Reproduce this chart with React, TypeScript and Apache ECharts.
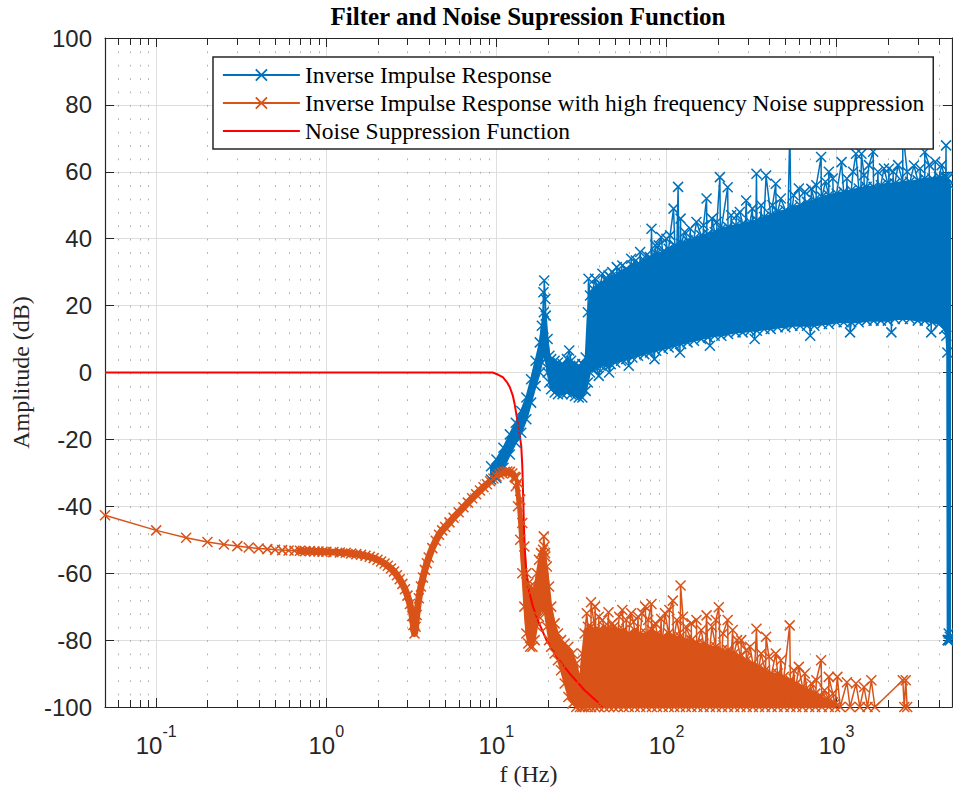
import { useEffect, useRef } from "react";
import * as echarts from "echarts";

// ---------- axis ----------
const X_MIN = 0.05;
const X_MAX = 4770;
const Y_MIN = -100;
const Y_MAX = 100;
const Y_STEP = 20;
const minorMultipliers = [2, 3, 4, 5, 6, 7, 8, 9];
const minorDecades = [-2, -1, 0, 1, 2, 3];

// ---------- series names ----------
const NAME_BLUE = "Inverse Impulse Response";
const NAME_ORANGE = "Inverse Impulse Response with high frequency Noise suppression";
const NAME_RED = "Noise Suppression Function";

// ---------- orange: low-frequency trace ----------
const orangeTraceF = [
  0.05, 0.1, 0.15, 0.2, 0.25, 0.3, 0.35, 0.4, 0.45, 0.5, 0.55, 0.6, 0.65, 0.7, 0.75, 0.8, 0.85, 0.9, 0.95, 1.0,
  1.1, 1.2, 1.3, 1.4, 1.5, 1.6, 1.7, 1.8, 1.9, 2.0, 2.1, 2.2, 2.3, 2.4, 2.5, 2.6, 2.7, 2.8, 2.9, 3.0,
  3.1, 3.2, 3.25, 3.3, 3.35, 3.4, 3.5, 3.6, 3.7, 3.8, 3.9, 4.0, 4.2, 4.4, 4.6, 4.8, 5.0, 5.3, 5.6, 6.0,
  6.4, 6.8, 7.2, 7.6, 8.0, 8.4, 8.8, 9.2, 9.6, 10.0, 10.4, 10.8, 11.2, 11.6, 12.0, 12.4, 12.8,
];
const orangeTraceV = [
  -42.7, -47.2, -49.4, -50.7, -51.4, -51.9, -52.3, -52.6, -52.8, -53.0, -53.1, -53.2, -53.3, -53.3, -53.4, -53.4, -53.5, -53.5, -53.6, -53.6,
  -53.7, -53.8, -53.9, -54.1, -54.3, -54.5, -54.8, -55.1, -55.5, -56.0, -56.5, -57.1, -57.8, -58.6, -59.5, -60.6, -61.8, -63.2, -64.8, -66.7,
  -69.2, -72.8, -75.5, -78.0, -76.0, -72.5, -67.5, -64.0, -61.3, -59.0, -57.0, -55.3, -52.5, -50.3, -48.5, -47.2, -46.2, -44.8, -43.4, -41.8,
  -40.3, -38.9, -37.6, -36.4, -35.3, -34.3, -33.4, -32.5, -31.7, -31.0, -30.4, -30.0, -29.7, -29.6, -29.7, -30.2, -31.2,
];
// frequency above which the trace points merge into a solid band
const ORANGE_DENSE_FROM = 0.7;

// ---------- orange: noisy band (upper / lower edge) ----------
const orangeBandF = [
  13.0, 13.4, 13.8, 14.2, 14.6, 15.0, 15.4, 15.8, 16.3, 16.8, 17.3, 17.8, 18.3, 18.8, 19.3, 19.8, 20.4, 21, 22, 23,
  24, 25.2, 26.5, 28, 29.5, 31, 32, 33, 34.5, 36, 38, 40, 43, 46, 49, 52, 56, 60, 65, 70,
  76, 82, 88, 95, 103, 111, 120, 130, 140, 152, 165, 180, 195, 212, 230, 250, 272, 296, 322, 350,
  380, 415, 450, 490, 535, 580, 630, 690, 750, 820, 900, 980,
];
const orangeBandHi = [
  -31.5, -33, -38, -45, -52, -60, -63, -64, -65, -64, -60, -56, -54, -53, -54, -58, -64, -70, -75, -78,
  -80, -81, -82, -84, -87, -92, -84, -78, -76, -76, -77, -77, -76, -77, -76, -77, -77, -78, -77, -78,
  -78, -77, -78, -79, -78, -79, -79, -80, -80, -81, -81, -82, -82, -83, -83, -84, -85, -86, -87, -88,
  -89, -90, -90, -91, -92, -93, -94, -95, -96, -97, -98, -99,
];
const orangeBandLo = [
  -34, -40, -50, -60, -70, -78, -81, -82, -82, -80, -76, -73, -71, -71, -72, -76, -80, -82, -84, -86,
  -89, -93, -97, -99, -100, -100, -100, -100, -100, -100, -100, -100, -100, -100, -100, -100, -100, -100, -100, -100,
  -100, -100, -100, -100, -100, -100, -100, -100, -100, -100, -100, -100, -100, -100, -100, -100, -100, -100, -100, -100,
  -100, -100, -100, -100, -100, -100, -100, -100, -100, -100, -100, -100,
];
// ---------- orange: peaks above the band ----------
const orangeSpikeF = [
  19.0, 19.2, 19.4, 34, 36, 38, 40, 42, 45.6, 48, 52.7, 55, 58, 62, 64, 68, 72, 75, 78, 81.6,
  86, 93, 98, 104, 109, 115, 121, 125, 130, 140, 150, 160, 172, 185, 195, 203, 215, 229, 245, 260,
  275, 294, 310, 338, 360, 385, 400, 439, 470, 530, 560, 600, 650, 711, 760, 811, 850, 900, 950,
];
const orangeSpikeV = [
  -49, -52, -55, -72, -68.7, -70, -73, -74, -71.7, -75, -73, -71, -74, -72, -74.6, -73, -72, -70, -74, -69.2,
  -75, -73.7, -72, -71, -68.2, -74, -63.7, -73, -76, -75, -74, -77, -72.6, -76, -74, -70.2, -78, -74, -77, -80,
  -80, -83, -82, -76.6, -84, -79, -85, -84, -86, -75.6, -89, -88, -90, -93, -92, -86, -95, -91, -96,
];
// ---------- orange: sparse tail ----------
const orangeTailF = [1010, 1050, 1150, 1200, 1300, 1370, 1450, 1520, 1600, 1680, 2450, 2500, 2550, 2600];
const orangeTailV = [-91, -100, -92.6, -100, -93, -100, -94, -100, -92, -100, -92, -100, -92, -100];

// ---------- blue: band (upper / lower edge) ----------
const blueBandF = [
  9.3, 10, 11, 12, 13, 14, 15, 16, 17, 18, 18.5, 19, 19.5, 20, 20.5, 21, 22, 23, 24.5, 26,
  27.5, 29, 30.5, 32, 33.5, 34.5, 35.5, 37, 39, 41, 44, 47, 50, 54, 58, 63, 68, 74, 80, 87,
  95, 103, 112, 122, 133, 145, 160, 175, 192, 210, 230, 255, 280, 310, 340, 375, 410, 450, 500, 550,
  610, 670, 740, 820, 900, 1000, 1100, 1220, 1350, 1500, 1650, 1820, 2000, 2200, 2450, 2700, 3000, 3300, 3650, 4000,
  4300, 4420, 4480, 4500, 4640,
];
const blueBandHi = [
  -28, -26, -22.5, -18.5, -15, -11.5, -7.5, -2, 3.5, 9, 14, 18, 17, 10, 5, 4, 3.5, 3, 2.5, 4,
  3.5, 2.5, 2, 2.5, 4.5, 18, 23, 25, 26, 26.5, 27.5, 28.5, 29, 30, 31, 32, 32.5, 33.5, 34.5, 35.5,
  36, 37, 38, 38.5, 39.5, 40, 41, 41.5, 42, 43, 43.5, 44, 44.5, 45, 45.5, 46.5, 47, 48, 48.5, 49.5,
  50, 51, 51.5, 52.5, 53, 53.5, 54, 54.5, 55, 55.5, 55.5, 56, 56.5, 56.5, 57, 57, 57.5, 58, 58, 58.5,
  58.5, 58.5, 58, 58, 56,
];
const blueBandLo = [
  -32, -31.5, -28.5, -24.5, -21, -18, -14, -9, -4, 0, 3, 6, 4, 0, -3, -5, -6, -6.5, -6.5, -6,
  -6.5, -7, -7.5, -7.5, -5.5, -3, 0, 1, 1.5, 2, 2, 2.5, 3, 3.5, 4, 4.5, 5, 5.5, 6, 6.5,
  7, 7.5, 8, 8.5, 9, 9.5, 10, 10.5, 11, 11, 11.5, 12, 12, 12.5, 12.5, 13, 13, 13.5, 13.5, 14,
  14, 14, 14, 14.5, 14.5, 15, 15, 15, 15, 15.5, 15.5, 15.5, 15.5, 16, 16, 16, 15.5, 15.5, 15, 14.5,
  13, 11, 6, -80, -80,
];
// ---------- blue: peaks above the band ----------
const blueSpikeF = [
  18.9, 19.1, 19.4, 26.8, 34.8, 38, 42, 45.6, 48, 51, 55, 58.5, 62, 66, 70, 76, 81.6, 86, 90, 93,
  100, 105, 110, 117, 121, 128, 138, 150, 165, 172, 185, 198, 206, 229, 240, 260, 270, 294, 320, 338,
  360, 385, 420, 439, 470, 531, 560, 600, 650, 711, 760, 811, 860, 900, 950, 1070, 1150, 1250, 1300, 1400,
  1450, 1550, 1640, 1750, 1900, 2030, 2150, 2300, 2450, 2600, 2850, 3100, 3300, 3500, 3800, 4150, 4400,
];
const blueSpikeV = [
  24, 27.5, 22, 6.6, 28, 28, 29.5, 29, 30, 31.5, 32, 30.5, 34, 33.5, 36, 35, 43, 38, 38, 40.5,
  40, 41, 49, 55.5, 46, 42, 43, 45, 44, 52, 46, 45, 58.4, 55.4, 47, 47, 48, 51.4, 49, 59.4,
  50, 58.9, 50, 56.4, 52, 72, 53, 55, 54, 54.9, 56, 64.4, 57, 60, 58, 62.9, 58, 60, 65.4, 65.4,
  59, 62, 66, 60, 61, 60.9, 60, 62, 72, 60, 61.9, 61, 65.9, 62, 63, 62, 67.9,
];
// ---------- blue: dips below the band ----------
const blueDipF = [40, 46, 60, 85, 120, 180, 330, 700, 1200, 2100, 3600];
const blueDipV = [-1, 0, 2, 4, 6, 8, 10, 11, 12, 12, 12];
// ---------- blue: final roll-off (markers along the drop) ----------
const blueEndF = [4520, 4560, 4600, 4630];
const blueEndV = [-80, -78, -80, -79];

// ---------- red: noise suppression function ----------
const redF = [
  0.05, 9.5, 10.2, 10.9, 11.5, 12.0, 12.5, 12.8, 13.1, 13.4, 13.7, 14.0, 14.2, 14.35, 14.5, 14.7, 15.0, 15.5, 16.4, 17.5,
  19.7, 23, 27, 33, 42.4,
];
const redV = [
  0, 0, -0.6, -1.4, -2.8, -4.4, -7, -9.4, -12.5, -15.3, -18.5, -22, -28, -36, -45, -53, -60, -65, -70, -74,
  -80, -85.5, -90, -95, -100,
];

// ---------- styles ----------
const BLUE = "#0072BD";
const ORANGE = "#D95319";
const RED = "#FF0000";
const AXIS = "#262626";
const SERIF = "'Liberation Serif', 'Times New Roman', serif";
const SANS = "'Liberation Sans', Arial, Helvetica, sans-serif";
const XMARK = "path://M0,0L10,10M0,10L10,0";

type P = [number, number];

function pairs(f: number[], v: number[]): P[] {
  return f.map((x, i) => [x, v[i]] as P);
}
function zigzag(f: number[], hi: number[], lo: number[]): P[] {
  const out: P[] = [];
  f.forEach((x, i) => {
    if (i % 2 === 0) {
      out.push([x, hi[i]]);
      out.push([x, lo[i]]);
    } else {
      out.push([x, lo[i]]);
      out.push([x, hi[i]]);
    }
  });
  return out;
}
function byFreq(list: P[]): P[] {
  return list.slice().sort((a, b) => a[0] - b[0]);
}

function bandSeries(name: string, f: number[], hi: number[], lo: number[], color: string) {
  return {
    type: "custom",
    name,
    silent: true,
    z: 2,
    data: [[f[0], hi[0]]],
    renderItem: (_params: any, api: any) => {
      const pts: number[][] = [];
      for (let i = 0; i < f.length; i++) pts.push(api.coord([f[i], hi[i]]));
      for (let i = f.length - 1; i >= 0; i--) pts.push(api.coord([f[i], lo[i]]));
      return {
        type: "polygon",
        shape: { points: pts },
        style: { fill: color, stroke: color, lineWidth: 2 },
      };
    },
  };
}

export default function App() {
  const ref = useRef<HTMLDivElement>(null);

  useEffect(() => {
    if (!ref.current) return;
    const chart = echarts.init(ref.current, undefined, { renderer: "svg" });

    const minorF: number[] = [];
    minorDecades.forEach((d) =>
      minorMultipliers.forEach((m) => {
        const f = m * Math.pow(10, d);
        if (f > X_MIN && f < X_MAX) minorF.push(f);
      })
    );

    const blueData = byFreq([
      ...zigzag(blueBandF, blueBandHi, blueBandLo),
      ...pairs(blueSpikeF, blueSpikeV),
      ...pairs(blueDipF, blueDipV),
      ...pairs(blueEndF, blueEndV),
    ]);
    const orangeTrace = pairs(orangeTraceF, orangeTraceV);
    const orangeData = byFreq([
      ...orangeTrace,
      ...zigzag(orangeBandF, orangeBandHi, orangeBandLo),
      ...pairs(orangeSpikeF, orangeSpikeV),
      ...pairs(orangeTailF, orangeTailV),
    ]);
    const orangeDense = orangeTrace.filter((p) => p[0] >= ORANGE_DENSE_FROM);

    const axisCommon = {
      axisLine: { show: true, onZero: false, lineStyle: { color: AXIS, width: 1.2 } },
      axisTick: { show: true, inside: true, length: 9, lineStyle: { color: AXIS, width: 1 } },
    };

    const markerLine = (name: string, data: P[], color: string) => ({
      type: "line",
      name,
      data,
      clip: false,
      silent: true,
      symbol: XMARK,
      symbolSize: 10,
      showSymbol: true,
      color,
      lineStyle: { color, width: 1.5 },
      itemStyle: { color, borderColor: color, borderWidth: 1.5 },
      emphasis: { disabled: true },
    });

    const option: any = {
      animation: false,
      backgroundColor: "#ffffff",
      grid: { left: 105, right: 1, top: 38, bottom: 87, containLabel: false },
      graphic: [
        {
          type: "text",
          x: 528,
          y: 4,
          silent: true,
          style: {
            text: "Filter and Noise Supression Function",
            fontFamily: SERIF,
            fontSize: 25,
            fontWeight: "bold",
            fill: "#000",
            align: "center",
            verticalAlign: "top",
          },
        },
      ],
      xAxis: [
        {
          type: "log",
          logBase: 10,
          min: X_MIN,
          max: X_MAX,
          position: "bottom",
          name: "f (Hz)",
          nameLocation: "middle",
          nameGap: 55,
          nameTextStyle: { fontFamily: SERIF, fontSize: 24, color: AXIS },
          ...axisCommon,
          splitLine: { show: true, lineStyle: { color: "#dedede", width: 1 } },
          axisLabel: {
            show: true,
            showMinLabel: false,
            showMaxLabel: false,
            margin: 16,
            formatter: (v: number) => `{b|10}{s|${Math.round(Math.log10(v))}}`,
            rich: {
              b: { fontFamily: SANS, fontSize: 24, color: AXIS, lineHeight: 34, verticalAlign: "bottom" },
              s: { fontFamily: SANS, fontSize: 16, color: AXIS, lineHeight: 34, verticalAlign: "top" },
            },
          },
        },
        {
          type: "log",
          logBase: 10,
          min: X_MIN,
          max: X_MAX,
          position: "top",
          ...axisCommon,
          axisLabel: { show: false },
          splitLine: { show: false },
        },
      ],
      yAxis: [
        {
          type: "value",
          min: Y_MIN,
          max: Y_MAX,
          interval: Y_STEP,
          position: "left",
          name: "Amplitude (dB)",
          nameLocation: "middle",
          nameGap: 71,
          nameTextStyle: { fontFamily: SERIF, fontSize: 24, color: AXIS },
          ...axisCommon,
          splitLine: { show: true, lineStyle: { color: "#dedede", width: 1 } },
          axisLabel: { show: true, margin: 13, fontFamily: SANS, fontSize: 24, color: AXIS },
        },
        {
          type: "value",
          min: Y_MIN,
          max: Y_MAX,
          interval: Y_STEP,
          position: "right",
          ...axisCommon,
          axisLabel: { show: false },
          splitLine: { show: false },
        },
      ],
      legend: {
        show: true,
        orient: "vertical",
        left: 213,
        top: 57,
        padding: [6, 9, 6, 9],
        itemWidth: 77,
        itemHeight: 14,
        itemGap: 4,
        backgroundColor: "#ffffff",
        borderColor: AXIS,
        borderWidth: 1.5,
        borderRadius: 0,
        selectedMode: false,
        textStyle: { fontFamily: SERIF, fontSize: 23.5, color: "#000", lineHeight: 24 },
        data: [
          {
            name: NAME_BLUE,
            itemStyle: { color: BLUE, borderColor: BLUE, borderWidth: 1.8 },
            lineStyle: { color: BLUE, width: 1.8 },
          },
          {
            name: NAME_ORANGE,
            itemStyle: { color: ORANGE, borderColor: ORANGE, borderWidth: 1.8 },
            lineStyle: { color: ORANGE, width: 1.8 },
          },
          {
            name: NAME_RED,
            itemStyle: { color: "rgba(0,0,0,0)", borderColor: "rgba(0,0,0,0)", borderWidth: 0, opacity: 0 },
            lineStyle: { color: RED, width: 1.8 },
          },
        ],
      },
      series: [
        {
          type: "custom",
          name: "minorGrid",
          silent: true,
          z: 1,
          data: minorF.map((f) => [f, 0]),
          renderItem: (_params: any, api: any) => {
            const f = api.value(0);
            const top = api.coord([f, Y_MAX]);
            const bot = api.coord([f, Y_MIN]);
            const x = Math.round(top[0]) + 0.5;
            return {
              type: "group",
              children: [
                {
                  type: "line",
                  shape: { x1: x, y1: top[1], x2: x, y2: bot[1] },
                  style: { stroke: "#b0b0b0", lineWidth: 1, lineDash: [1.8, 11.58] },
                },
                {
                  type: "line",
                  shape: { x1: x, y1: bot[1], x2: x, y2: bot[1] - 7 },
                  style: { stroke: AXIS, lineWidth: 1 },
                },
                {
                  type: "line",
                  shape: { x1: x, y1: top[1], x2: x, y2: top[1] + 7 },
                  style: { stroke: AXIS, lineWidth: 1 },
                },
              ],
            };
          },
        },
        bandSeries("blueBand", blueBandF, blueBandHi, blueBandLo, BLUE),
        markerLine(NAME_BLUE, blueData, BLUE),
        bandSeries("orangeBand", orangeBandF, orangeBandHi, orangeBandLo, ORANGE),
        {
          type: "line",
          name: "orangeDense",
          data: orangeDense,
          silent: true,
          symbol: "none",
          showSymbol: false,
          color: ORANGE,
          lineStyle: { color: ORANGE, width: 7, cap: "round", join: "round" },
          emphasis: { disabled: true },
        },
        markerLine(NAME_ORANGE, orangeData, ORANGE),
        {
          type: "line",
          name: NAME_RED,
          data: pairs(redF, redV),
          silent: true,
          symbol: "none",
          showSymbol: false,
          smooth: false,
          color: RED,
          lineStyle: { color: RED, width: 2 },
          emphasis: { disabled: true },
        },
      ],
    };

    chart.setOption(option);
    return () => chart.dispose();
  }, []);

  return (
    <div
      ref={ref}
      style={{ position: "fixed", left: 0, top: 0, width: 953, height: 794, background: "#fff" }}
    />
  );
}
